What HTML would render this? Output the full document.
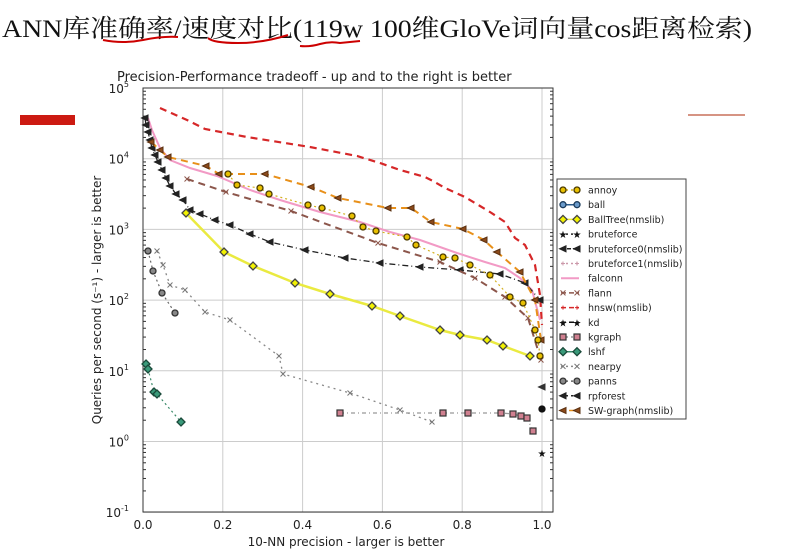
<!DOCTYPE html>
<html><head><meta charset="utf-8"><style>
html,body{margin:0;padding:0;background:#fff;width:788px;height:549px;overflow:hidden}
svg{display:block}
</style></head><body>
<svg id="s" width="788" height="549" xmlns="http://www.w3.org/2000/svg" font-family="'DejaVu Sans','Liberation Sans',sans-serif">
<text x="2" y="37" font-family="'Liberation Serif','Noto Serif CJK SC',serif" font-size="25" fill="#111" textLength="750" lengthAdjust="spacingAndGlyphs">ANN库准确率/速度对比(119w 100维GloVe词向量cos距离检索)</text>
<path d="M103,40 q20,4 40,0 t35,-3" stroke="#c00" stroke-width="2" fill="none"/>
<path d="M208,38 q5,5 30,5 t50,-8" stroke="#c00" stroke-width="2" fill="none"/>
<path d="M300,46 q10,1 20,-2 t20,-1 l20,-2" stroke="#c00" stroke-width="2" fill="none"/>
<rect x="20" y="115" width="55" height="10" fill="#cc1a12"/>
<line x1="688" y1="115" x2="745" y2="115" stroke="#c8705a" stroke-width="1.5"/>
<text x="117" y="81" font-size="13" fill="#222">Precision-Performance tradeoff - up and to the right is better</text>
<g id="g"></g>
</svg>
<script>
var g=document.getElementById('g'),NS='http://www.w3.org/2000/svg';
function el(t,a,txt){var e=document.createElementNS(NS,t);for(var k in a)e.setAttribute(k,a[k]);if(txt!=null)e.textContent=txt;g.appendChild(e);return e;}
var L=143,R=553,T=88,B=512;
for(var i=0;i<=5;i++){var x=143+79.8*i;el('line',{x1:x,y1:T,x2:x,y2:B,stroke:'#ccc','stroke-width':1});
el('text',{x:x,y:529,'font-size':12,'text-anchor':'middle',fill:'#222'},(i*0.2).toFixed(1));}
for(var d=0;d<=6;d++){var y=T+70.7*d;el('line',{x1:L,y1:y,x2:R,y2:y,stroke:'#ccc','stroke-width':1});
var t=el('text',{x:129,y:y+5,'font-size':12,'text-anchor':'end',fill:'#222'},'10');
var e=5-d;var ts=document.createElementNS(NS,'tspan');ts.setAttribute('dy','-6');ts.setAttribute('font-size','8');ts.textContent=(e<0?'-':'')+Math.abs(e);t.appendChild(ts);
for(var m=2;m<10&&d<6;m++){var yy=y+70.7*(1-Math.log10(m));el('line',{x1:L,y1:yy,x2:L+3,y2:yy,stroke:'#333'});el('line',{x1:R,y1:yy,x2:R-3,y2:yy,stroke:'#333'});}}
el('rect',{x:L,y:T,width:R-L,height:B-T,fill:'none',stroke:'#333','stroke-width':1});
el('text',{x:346,y:546,'font-size':12,'text-anchor':'middle',fill:'#222'},'10-NN precision - larger is better');
el('text',{x:0,y:0,'font-size':12,'text-anchor':'middle',fill:'#222',transform:'translate(101,300) rotate(-90)'},'Queries per second (s\u207B\u00B9) - larger is better');
function line(pts,c,w,da){el('polyline',{points:pts.map(p=>p.join(',')).join(' '),fill:'none',stroke:c,'stroke-width':w,'stroke-dasharray':da||'none'});}
function mk(p,type,f,s){var x=p[0],y=p[1];
 if(type=='o')el('circle',{cx:x,cy:y,r:3,fill:f,stroke:s,'stroke-width':1.3});
 else if(type=='D')el('polygon',{points:[x,y-4,x+4,y,x,y+4,x-4,y].join(','),fill:f,stroke:s,'stroke-width':1.3});
 else if(type=='s')el('rect',{x:x-3,y:y-3,width:6,height:6,fill:f,stroke:s,'stroke-width':1.2});
 else if(type=='<')el('polygon',{points:[x-3.5,y,x+3,y-3,x+3,y+3].join(','),fill:f,stroke:s});
 else if(type=='x'){el('path',{d:`M${x-2.5},${y-2.5}L${x+2.5},${y+2.5}M${x-2.5},${y+2.5}L${x+2.5},${y-2.5}`,stroke:s,'stroke-width':1});}
 else if(type=='*')el('text',{x:x,y:y+4,'font-size':10,'text-anchor':'middle',fill:s},'\u2605');
 else if(type=='+'){el('path',{d:`M${x-2},${y}L${x+2},${y}M${x},${y-2}L${x},${y+2}`,stroke:s,'stroke-width':1});}}
line([[160,108],[187,120],[205,129],[247,137],[310,147],[357,156],[380,163],[400,170],[425,177],[433,181],[445,188],[465,197],[480,206],[490,212],[505,222],[515,238],[525,245],[535,265],[540,295],[542,325]],'#d62728',2.2,'7,5');
line([[148,118],[152,130],[160,148],[170,160],[190,168],[217,176],[250,190],[280,200],[320,212],[360,222],[390,232],[420,240],[457,253],[485,262],[505,268],[520,278],[532,290],[540,320]],'#f29ac5',2);
var bf0=[[145,118],[146,125],[148,132],[150,140],[152,148],[155,155],[158,162],[162,170],[166,178],[170,186],[176,194],[183,200],[190,210],[200,214],[215,220],[230,225],[250,234],[270,242],[305,250],[345,258],[380,263],[420,267],[460,270],[500,274],[525,283],[540,300]];
line(bf0,'#222',1.3,'6,3,1,3');bf0.forEach(p=>mk(p,'<','#222','#222'));
var fl=[[187,179],[226,192],[291,211],[378,243],[440,262],[475,278],[505,297],[528,318],[541,360]];
line(fl,'#8c564b',2,'7,5');fl.forEach(p=>mk(p,'x','none','#8c564b'));
var sw=[[151,142],[160,150],[168,157],[206,166],[219,174],[265,174],[311,187],[338,198],[388,208],[411,208],[431,222],[463,229],[484,240],[497,252],[520,272],[535,300],[541,340]];
line(sw,'#e8901a',2,'7,5');sw.forEach(p=>mk(p,'<','#8c4a1a','#5a3010'));
var an=[[228,174],[237,185],[260,188],[269,194],[308,205],[322,208],[352,216],[363,227],[376,231],[407,237],[416,245],[443,257],[455,258],[470,265],[490,275],[510,297],[523,303],[535,330],[538,340],[540,356]];
line(an,'#d4b020',1.2,'2,3');an.forEach(p=>mk(p,'o','#e8c000','#4a3a00'));
var bt=[[186,213],[224,252],[253,266],[295,283],[330,294],[372,306],[400,316],[440,330],[460,335],[487,340],[503,346],[530,356]];
line(bt,'#eaea40',2.5);bt.forEach(p=>mk(p,'D','#f2f200','#444'));
var np=[[157,251],[163,265],[170,285],[185,290],[205,312],[230,320],[279,356],[283,374],[350,393],[400,410],[432,422]];
line(np,'#888',1.3,'2,4');np.forEach(p=>mk(p,'x','none','#777'));
var pn=[[148,251],[153,271],[162,293],[175,313]];line(pn,'#666',1.2,'2,3');pn.forEach(p=>mk(p,'o','#888','#333'));
var kg=[[340,413],[443,413],[468,413],[501,413],[513,414],[521,416],[527,418],[533,431]];
line(kg,'#999',1.3,'4,3,1,3');kg.forEach(p=>mk(p,'s','#d08090','#333'));
var ls=[[146,364],[148,369],[154,392],[157,394],[181,422]];line(ls,'#3a8a6a',1.2,'2,3');ls.forEach(p=>mk(p,'D','#3a9a7a','#1a4a3a'));
mk([542,453],'*','#111','#111');mk([542,409],'o','#111','#111');mk([542,387],'<','#333','#333');
el('rect',{x:557,y:179,width:129,height:240,fill:'#fff',stroke:'#444','stroke-width':1});
var items=[['annoy','#d4b020','2,3','o','#e8c000','#4a3a00'],['ball','#2a5a8a','','o','#6a9aca','#1a3a5a'],['BallTree(nmslib)','#eaea40','','D','#f2f200','#444'],['bruteforce','#222','2,3','*','#111','#111'],['bruteforce0(nmslib)','#222','4,2','<','#222','#222'],['bruteforce1(nmslib)','#c9a','2,3','+','#c9a','#c9a'],['falconn','#f29ac5','','',null,null],['flann','#8c564b','5,3','x','none','#8c564b'],['hnsw(nmslib)','#d62728','5,3','+','#d62728','#d62728'],['kd','#111','5,3','*','#111','#111'],['kgraph','#999','2,3','s','#d08090','#333'],['lshf','#3a8a6a','','D','#3a9a7a','#1a4a3a'],['nearpy','#888','2,3','x','none','#777'],['panns','#666','2,3','o','#888','#333'],['rpforest','#222','2,3','<','#222','#222'],['SW-graph(nmslib)','#e8901a','5,3','<','#8c4a1a','#5a3010']];
items.forEach((it,i)=>{var y=190+i*14.7;line([[561,y],[579,y]],it[1],it[3]?1.5:2,it[2]);if(it[3]){mk([563,y],it[3],it[4],it[5]);mk([577,y],it[3],it[4],it[5]);}
el('text',{x:588,y:y+3.5,'font-size':9.5,fill:'#222'},it[0]);});
</script>
</body></html>
